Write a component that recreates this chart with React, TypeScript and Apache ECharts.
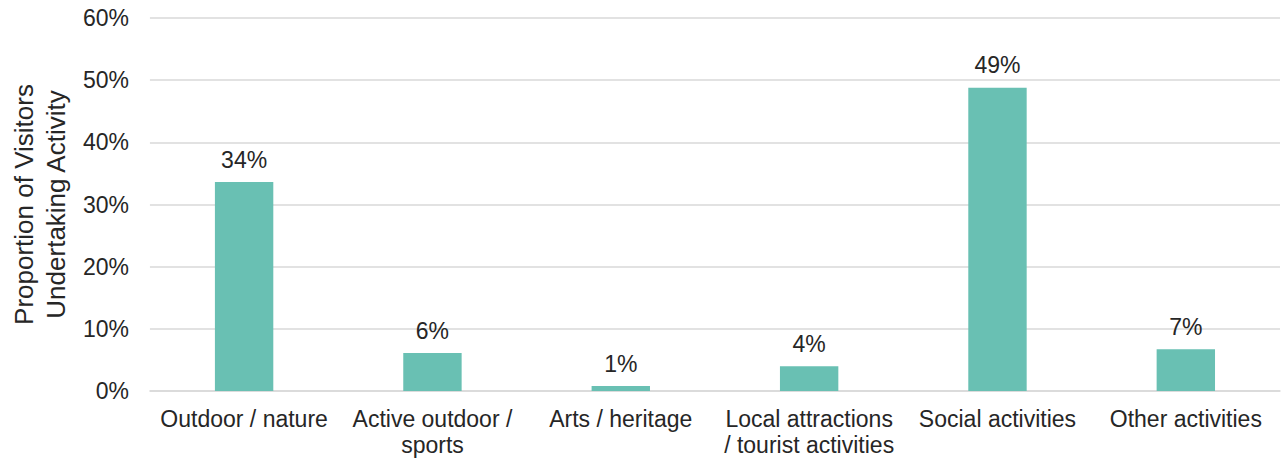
import React, { useEffect, useRef } from "react";
import * as echarts from "echarts";

const categories = [
  "Outdoor / nature",
  "Active outdoor /\nsports",
  "Arts / heritage",
  "Local attractions\n/ tourist activities",
  "Social activities",
  "Other activities",
];
const values = [33.6, 6.1, 0.8, 4.0, 48.8, 6.7];
const yTicks = [0, 10, 20, 30, 40, 50, 60];
const yAxisTitle = "Proportion of Visitors\nUndertaking Activity";

const FONT = "Liberation Sans, Arial, sans-serif";
const TEXT = "#262626";
const FS = 23;

export default function App() {
  const ref = useRef<HTMLDivElement>(null);
  useEffect(() => {
    if (!ref.current) return;
    const chart = echarts.init(ref.current, null, { renderer: "svg" });
    chart.setOption({
      animation: false,
      textStyle: { fontFamily: FONT },
      grid: { left: 149, right: 1, top: 18, bottom: 68 },
      xAxis: {
        type: "category",
        data: categories,
        axisTick: { show: false },
        axisLine: { lineStyle: { color: "#d9d9d9", width: 1.5 } },
        axisLabel: {
          color: TEXT,
          fontSize: FS,
          fontFamily: FONT,
          margin: 15,
          lineHeight: 26,
          interval: 0,
        },
      },
      yAxis: {
        type: "value",
        min: yTicks[0],
        max: yTicks[yTicks.length - 1],
        interval: 10,
        name: yAxisTitle,
        nameLocation: "middle",
        nameGap: 69,
        nameTextStyle: { color: TEXT, fontSize: 26, fontFamily: FONT, lineHeight: 32 },
        axisLabel: {
          color: TEXT,
          fontSize: FS,
          fontFamily: FONT,
          margin: 21,
          formatter: (v: number) => v + "%",
        },
        splitLine: { lineStyle: { color: "#d9d9d9", width: 1.5 } },
        axisLine: { show: false },
        axisTick: { show: false },
      },
      series: [
        {
          type: "bar",
          data: values,
          barWidth: "31%",
          itemStyle: { color: "#69c0b3" },
          label: {
            show: true,
            position: "top",
            distance: 11,
            color: TEXT,
            fontSize: FS,
            fontFamily: FONT,
            formatter: (p: any) => Math.round(p.value) + "%",
          },
        },
      ],
    });
    return () => chart.dispose();
  }, []);
  return (
    <div
      ref={ref}
      style={{ position: "fixed", left: 0, top: 0, width: 1281, height: 459, background: "#fff" }}
    />
  );
}
